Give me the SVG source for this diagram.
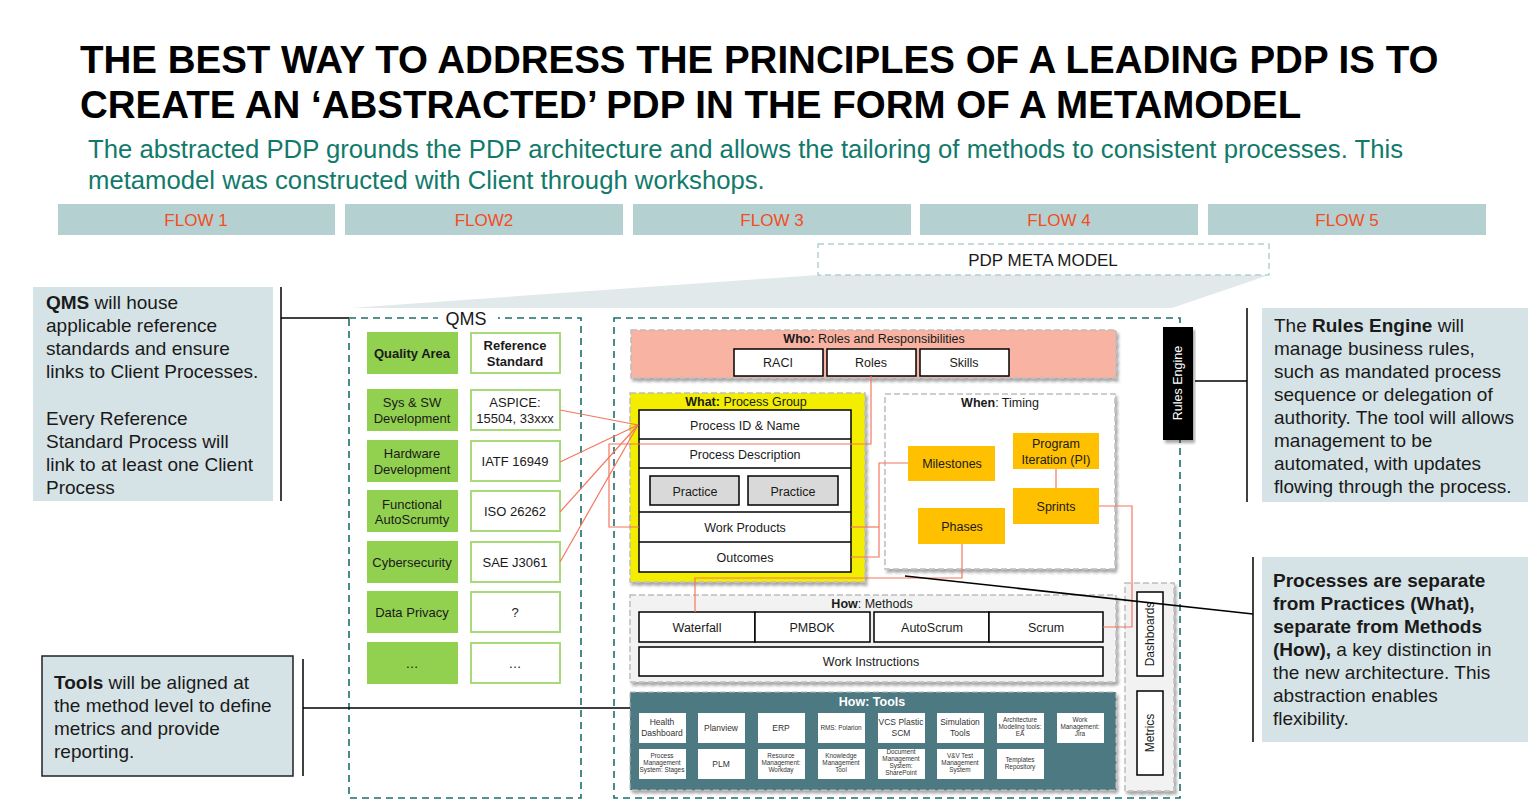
<svg xmlns="http://www.w3.org/2000/svg" width="1537" height="805" viewBox="0 0 1537 805">
  <style>
    text { font-family: "Liberation Sans", Arial, sans-serif; fill: #1a1a1a; }
    .title { font-size: 38.5px; font-weight: bold; fill: #000; }
    .sub { font-size: 25.7px; fill: #127a6b; }
    .flowbar { fill: #b5d0d0; }
    .flowtxt { font-size: 17px; fill: #f04e23; text-anchor: middle; }
    .note { fill: #d6e3e6; }
    .notetxt { font-size: 19px; fill: #1a1a1a; }
    .b { font-weight: bold; }
    .bracket { stroke: #000; stroke-width: 1.5; fill: none; }
    .tealdash { fill: none; stroke: #1b6f6c; stroke-width: 1.6; stroke-dasharray: 7 5; }
    .greydash { stroke: #bdbdbd; stroke-width: 1.5; stroke-dasharray: 6 3; }
    .green { fill: #92d050; }
    .ref { fill: #fff; stroke: #a8da7c; stroke-width: 2; }
    .qtxt { font-size: 13px; text-anchor: middle; }
    .cell { fill: #fff; stroke: #000; stroke-width: 1.5; }
    .ctxt { font-size: 12.5px; text-anchor: middle; }
    .hdr { font-size: 12.5px; text-anchor: middle; }
    .orange { fill: #ffc000; }
    .tool { fill: #fff; }
    .t8 { font-size: 8.5px; text-anchor: middle; fill: #333; }
    .t6 { font-size: 6.4px; text-anchor: middle; fill: #333; }
    .link { fill: none; stroke: #f4775e; stroke-width: 1.2; }
  </style>
  <defs>
    <filter id="shadow" x="-5%" y="-5%" width="115%" height="120%">
      <feDropShadow dx="2" dy="3" stdDeviation="1.5" flood-color="#000" flood-opacity="0.35"/>
    </filter>
  </defs>

  <rect x="0" y="0" width="1537" height="805" fill="#fff"/>

  <!-- heading -->
  <g id="heading">
    <text class="title" x="80" y="73">THE BEST WAY TO ADDRESS THE PRINCIPLES OF A LEADING PDP IS TO</text>
    <text class="title" x="80" y="118">CREATE AN ‘ABSTRACTED’ PDP IN THE FORM OF A METAMODEL</text>
    <text class="sub" x="88" y="158">The abstracted PDP grounds the PDP architecture and allows the tailoring of methods to consistent processes. This</text>
    <text class="sub" x="88" y="189">metamodel was constructed with Client through workshops.</text>
  </g>

  <!-- flow header bars -->
  <g id="flows">
    <rect class="flowbar" x="58" y="204" width="277" height="31"/>
    <rect class="flowbar" x="345" y="204" width="278" height="31"/>
    <rect class="flowbar" x="633" y="204" width="278" height="31"/>
    <rect class="flowbar" x="920" y="204" width="278" height="31"/>
    <rect class="flowbar" x="1208" y="204" width="278" height="31"/>
    <text class="flowtxt" x="196" y="226">FLOW 1</text>
    <text class="flowtxt" x="484" y="226">FLOW2</text>
    <text class="flowtxt" x="772" y="226">FLOW 3</text>
    <text class="flowtxt" x="1059" y="226">FLOW 4</text>
    <text class="flowtxt" x="1347" y="226">FLOW 5</text>
  </g>

  <!-- meta model banner and funnel -->
  <g id="metamodel">
    <polygon points="350,308 818,275 1269,275 1172,308" fill="#e1e9ea"/>
    <rect x="818" y="244" width="451" height="31" fill="#fff" stroke="#b5d0d0" stroke-width="1.5" stroke-dasharray="6 4"/>
    <text x="1043" y="266" font-size="17" text-anchor="middle">PDP META MODEL</text>
  </g>

  <!-- outer dashed containers -->
  <g id="qms-frame">
    <rect class="tealdash" x="349" y="318" width="232" height="480"/>
    <rect x="438" y="310" width="60" height="16" fill="#fff"/>
    <text x="466" y="325" font-size="18" text-anchor="middle">QMS</text>
  </g>
  <g id="pdp-frame">
    <rect class="tealdash" x="614" y="318" width="566" height="480"/>
  </g>

  <!-- QMS table -->
  <g id="qms-table">
    <rect class="green" x="367" y="332" width="91" height="42"/>
    <text class="qtxt b" x="412" y="358">Quality Area</text>
    <rect class="ref" x="471" y="333" width="89" height="40"/>
    <text class="qtxt b" x="515" y="350">Reference</text>
    <text class="qtxt b" x="515" y="366">Standard</text>

    <rect class="green" x="367" y="389" width="91" height="42"/>
    <text class="qtxt" x="412" y="407">Sys &amp; SW</text>
    <text class="qtxt" x="412" y="423">Development</text>
    <rect class="ref" x="471" y="390" width="89" height="40"/>
    <text class="qtxt" x="515" y="407">ASPICE:</text>
    <text class="qtxt" x="515" y="423">15504, 33xxx</text>

    <rect class="green" x="367" y="440" width="91" height="42"/>
    <text class="qtxt" x="412" y="458">Hardware</text>
    <text class="qtxt" x="412" y="474">Development</text>
    <rect class="ref" x="471" y="441" width="89" height="40"/>
    <text class="qtxt" x="515" y="466">IATF 16949</text>

    <rect class="green" x="367" y="490" width="91" height="42"/>
    <text class="qtxt" x="412" y="509">Functional</text>
    <text class="qtxt" x="412" y="524">AutoScrumty</text>
    <rect class="ref" x="471" y="491" width="89" height="40"/>
    <text class="qtxt" x="515" y="516">ISO 26262</text>

    <rect class="green" x="367" y="541" width="91" height="42"/>
    <text class="qtxt" x="412" y="567">Cybersecurity</text>
    <rect class="ref" x="471" y="542" width="89" height="40"/>
    <text class="qtxt" x="515" y="567">SAE J3061</text>

    <rect class="green" x="367" y="591" width="91" height="42"/>
    <text class="qtxt" x="412" y="617">Data Privacy</text>
    <rect class="ref" x="471" y="592" width="89" height="40"/>
    <text class="qtxt" x="515" y="617">?</text>

    <rect class="green" x="367" y="642" width="91" height="42"/>
    <text class="qtxt" x="412" y="668">…</text>
    <rect class="ref" x="471" y="643" width="89" height="40"/>
    <text class="qtxt" x="515" y="668">…</text>
  </g>

  <!-- Who -->
  <g id="who">
    <rect class="greydash" x="631" y="330" width="485" height="48" fill="#f8b3a2" filter="url(#shadow)"/>
    <text class="hdr" x="874" y="343"><tspan class="b">Who:</tspan> Roles and Responsibilities</text>
    <rect class="cell" x="734" y="349" width="89" height="27"/>
    <text class="ctxt" x="778" y="367">RACI</text>
    <rect class="cell" x="827" y="349" width="89" height="27"/>
    <text class="ctxt" x="871" y="367">Roles</text>
    <rect class="cell" x="920" y="349" width="89" height="27"/>
    <text class="ctxt" x="964" y="367">Skills</text>
  </g>

  <!-- What -->
  <g id="what">
    <rect class="greydash" x="630" y="393" width="235" height="189" fill="#f3ee00" filter="url(#shadow)"/>
    <text class="hdr" x="746" y="406"><tspan class="b">What:</tspan> Process Group</text>
    <rect class="cell" x="639" y="410" width="212" height="162"/>
    <line x1="639" y1="439" x2="851" y2="439" stroke="#000" stroke-width="1.5"/>
    <line x1="639" y1="468" x2="851" y2="468" stroke="#000" stroke-width="1.5"/>
    <line x1="639" y1="512" x2="851" y2="512" stroke="#000" stroke-width="1.5"/>
    <line x1="639" y1="542" x2="851" y2="542" stroke="#000" stroke-width="1.5"/>
    <text class="ctxt" x="745" y="430">Process ID &amp; Name</text>
    <text class="ctxt" x="745" y="459">Process Description</text>
    <rect x="650" y="476" width="89" height="29" fill="#d9d9d9" stroke="#000" stroke-width="1.5"/>
    <text class="ctxt" x="695" y="496">Practice</text>
    <rect x="748" y="476" width="90" height="29" fill="#d9d9d9" stroke="#000" stroke-width="1.5"/>
    <text class="ctxt" x="793" y="496">Practice</text>
    <text class="ctxt" x="745" y="532">Work Products</text>
    <text class="ctxt" x="745" y="562">Outcomes</text>
  </g>

  <!-- When -->
  <g id="when">
    <rect class="greydash" x="885" y="394" width="230" height="175" fill="#fff" filter="url(#shadow)"/>
    <text class="hdr" x="1000" y="407"><tspan class="b">When</tspan>: Timing</text>
    <rect class="orange" x="908" y="446" width="87" height="35"/>
    <text class="ctxt" x="952" y="468">Milestones</text>
    <rect class="orange" x="1013" y="433" width="86" height="36"/>
    <text class="ctxt" x="1056" y="448">Program</text>
    <text class="ctxt" x="1056" y="464">Iteration (PI)</text>
    <rect class="orange" x="1013" y="488" width="86" height="36"/>
    <text class="ctxt" x="1056" y="511">Sprints</text>
    <rect class="orange" x="918" y="508" width="87" height="36"/>
    <text class="ctxt" x="962" y="531">Phases</text>
  </g>

  <!-- How: Methods -->
  <g id="methods">
    <rect class="greydash" x="630" y="595" width="486" height="87" fill="#f2f2f2" filter="url(#shadow)"/>
    <text class="hdr" x="872" y="608"><tspan class="b">How</tspan>: Methods</text>
    <rect class="cell" x="639" y="612" width="116" height="30"/>
    <text class="ctxt" x="697" y="632">Waterfall</text>
    <rect class="cell" x="755" y="612" width="115" height="30"/>
    <text class="ctxt" x="812" y="632">PMBOK</text>
    <rect class="cell" x="874" y="612" width="115" height="30"/>
    <text class="ctxt" x="932" y="632">AutoScrum</text>
    <rect class="cell" x="989" y="612" width="114" height="30"/>
    <text class="ctxt" x="1046" y="632">Scrum</text>
    <rect class="cell" x="639" y="647" width="464" height="29"/>
    <text class="ctxt" x="871" y="666">Work Instructions</text>
  </g>

  <!-- How: Tools -->
  <g id="tools">
    <rect x="630" y="692" width="486" height="98" fill="#4e7983" stroke="#bdbdbd" stroke-width="1" stroke-dasharray="6 3" filter="url(#shadow)"/>
    <text x="872" y="706" font-size="12.5" font-weight="bold" text-anchor="middle" style="fill:#fff">How: Tools</text>
    <g class="tool">
      <rect x="639" y="713" width="47" height="30"/>
      <rect x="698" y="713" width="47" height="30"/>
      <rect x="758" y="713" width="47" height="30"/>
      <rect x="818" y="713" width="47" height="30"/>
      <rect x="878" y="713" width="47" height="30"/>
      <rect x="937" y="713" width="47" height="30"/>
      <rect x="997" y="713" width="47" height="30"/>
      <rect x="1057" y="713" width="47" height="30"/>
      <rect x="639" y="749" width="47" height="30"/>
      <rect x="698" y="749" width="47" height="30"/>
      <rect x="758" y="749" width="47" height="30"/>
      <rect x="818" y="749" width="47" height="30"/>
      <rect x="878" y="749" width="47" height="30"/>
      <rect x="937" y="749" width="47" height="30"/>
      <rect x="997" y="749" width="47" height="30"/>
    </g>
    <text class="t8" x="662" y="725">Health</text>
    <text class="t8" x="662" y="736">Dashboard</text>
    <text class="t8" x="721" y="731">Planview</text>
    <text class="t8" x="781" y="731">ERP</text>
    <text class="t6" x="841" y="730">RMS: Polarion</text>
    <text class="t8" x="901" y="725">VCS Plastic</text>
    <text class="t8" x="901" y="736">SCM</text>
    <text class="t8" x="960" y="725">Simulation</text>
    <text class="t8" x="960" y="736">Tools</text>
    <text class="t6" x="1020" y="722">Architecture</text>
    <text class="t6" x="1020" y="729">Modeling tools:</text>
    <text class="t6" x="1020" y="736">EA</text>
    <text class="t6" x="1080" y="722">Work</text>
    <text class="t6" x="1080" y="729">Management:</text>
    <text class="t6" x="1080" y="736">Jira</text>

    <text class="t6" x="662" y="758">Process</text>
    <text class="t6" x="662" y="765">Management</text>
    <text class="t6" x="662" y="772">System: Stages</text>
    <text class="t8" x="721" y="767">PLM</text>
    <text class="t6" x="781" y="758">Resource</text>
    <text class="t6" x="781" y="765">Management:</text>
    <text class="t6" x="781" y="772">Workday</text>
    <text class="t6" x="841" y="758">Knowledge</text>
    <text class="t6" x="841" y="765">Management</text>
    <text class="t6" x="841" y="772">Tool</text>
    <text class="t6" x="901" y="754">Document</text>
    <text class="t6" x="901" y="761">Management</text>
    <text class="t6" x="901" y="768">System:</text>
    <text class="t6" x="901" y="775">SharePoint</text>
    <text class="t6" x="960" y="758">V&amp;V Test</text>
    <text class="t6" x="960" y="765">Management</text>
    <text class="t6" x="960" y="772">System</text>
    <text class="t6" x="1020" y="762">Templates</text>
    <text class="t6" x="1020" y="769">Repository</text>
  </g>

  <!-- Rules engine -->
  <g id="rules-engine">
    <rect x="1163" y="327" width="30" height="113" fill="#000" filter="url(#shadow)"/>
    <text x="0" y="0" font-size="12.5" text-anchor="middle" transform="translate(1182,383) rotate(-90)" style="fill:#fff">Rules Engine</text>
  </g>

  <!-- Dashboards and metrics -->
  <g id="reporting">
    <rect class="greydash" x="1125" y="583" width="49" height="208" fill="#f2f2f2" filter="url(#shadow)"/>
    <rect class="cell" x="1137" y="592" width="26" height="84"/>
    <text x="0" y="0" font-size="12" text-anchor="middle" transform="translate(1154,634) rotate(-90)">Dashboards</text>
    <rect class="cell" x="1137" y="691" width="26" height="84"/>
    <text x="0" y="0" font-size="12" text-anchor="middle" transform="translate(1154,733) rotate(-90)">Metrics</text>
  </g>

  <!-- connectors -->
  <g id="connectors">
    <line class="link" x1="560" y1="410" x2="638" y2="425"/>
    <line class="link" x1="560" y1="462" x2="638" y2="425"/>
    <line class="link" x1="560" y1="512" x2="638" y2="425"/>
    <line class="link" x1="560" y1="562" x2="638" y2="425"/>
    <polyline class="link" points="871,376 871,444 609,444 609,527 639,527"/>
    <polyline class="link" points="851,527 879,527"/>
    <polyline class="link" points="851,557 879,557 879,463 908,463"/>
    <polyline class="link" points="962,544 962,578 695,578 695,612"/>
    <line class="link" x1="1056" y1="469" x2="1056" y2="488"/>
    <polyline class="link" points="1099,506 1132,506 1132,627 1103,627"/>

    <!-- note brackets -->
    <line class="bracket" x1="281" y1="287" x2="281" y2="501"/>
    <line class="bracket" x1="281" y1="318" x2="349" y2="318"/>
    <line class="bracket" x1="303" y1="659" x2="303" y2="776"/>
    <line class="bracket" x1="303" y1="708" x2="630" y2="708"/>
    <line class="bracket" x1="1247" y1="308" x2="1247" y2="502"/>
    <line class="bracket" x1="1195" y1="381" x2="1247" y2="381"/>
    <line class="bracket" x1="1253" y1="557" x2="1253" y2="742"/>
    <line class="bracket" x1="905" y1="576" x2="1253" y2="614"/>
  </g>

  <!-- side notes -->
  <g id="note-qms">
    <rect class="note" x="33" y="287" width="240" height="214"/>
    <text class="notetxt" x="46" y="309"><tspan class="b">QMS</tspan> will house</text>
    <text class="notetxt" x="46" y="332">applicable reference</text>
    <text class="notetxt" x="46" y="355">standards and ensure</text>
    <text class="notetxt" x="46" y="378">links to Client Processes.</text>
    <text class="notetxt" x="46" y="425">Every Reference</text>
    <text class="notetxt" x="46" y="448">Standard Process will</text>
    <text class="notetxt" x="46" y="471">link to at least one Client</text>
    <text class="notetxt" x="46" y="494">Process</text>
  </g>
  <g id="note-tools">
    <rect class="note" x="42" y="656" width="251" height="120" stroke="#222" stroke-width="1.5"/>
    <text class="notetxt" x="54" y="689"><tspan class="b">Tools</tspan> will be aligned at</text>
    <text class="notetxt" x="54" y="712">the method level to define</text>
    <text class="notetxt" x="54" y="735">metrics and provide</text>
    <text class="notetxt" x="54" y="758">reporting.</text>
  </g>
  <g id="note-rules">
    <rect class="note" x="1262" y="308" width="266" height="194"/>
    <text class="notetxt" x="1274" y="332">The <tspan class="b">Rules Engine</tspan> will</text>
    <text class="notetxt" x="1274" y="355">manage business rules,</text>
    <text class="notetxt" x="1274" y="378">such as mandated process</text>
    <text class="notetxt" x="1274" y="401">sequence or delegation of</text>
    <text class="notetxt" x="1274" y="424">authority. The tool will allows</text>
    <text class="notetxt" x="1274" y="447">management to be</text>
    <text class="notetxt" x="1274" y="470">automated, with updates</text>
    <text class="notetxt" x="1274" y="493">flowing through the process.</text>
  </g>
  <g id="note-separation">
    <rect class="note" x="1262" y="557" width="266" height="185"/>
    <text class="notetxt b" x="1273" y="587">Processes are separate</text>
    <text class="notetxt b" x="1273" y="610">from Practices (What),</text>
    <text class="notetxt b" x="1273" y="633">separate from Methods</text>
    <text class="notetxt" x="1273" y="656"><tspan class="b">(How),</tspan> a key distinction in</text>
    <text class="notetxt" x="1273" y="679">the new architecture. This</text>
    <text class="notetxt" x="1273" y="702">abstraction enables</text>
    <text class="notetxt" x="1273" y="725">flexibility.</text>
  </g>
</svg>
